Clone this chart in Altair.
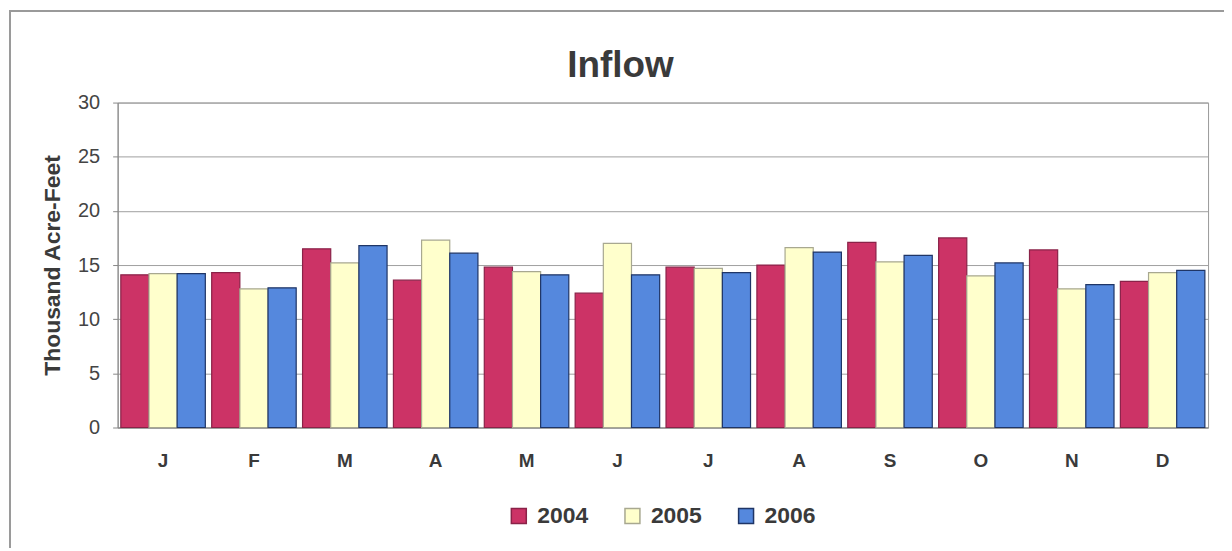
import altair as alt
import pandas as pd

title_text = "Inflow"
months = ["J", "F", "M", "A", "M ", "J ", "J  ", "A ", "S", "O", "N", "D"]
years = ["2004", "2005", "2006"]
v2004 = [14.1, 14.3, 16.5, 13.6, 14.8, 12.4, 14.8, 15.0, 17.1, 17.5, 16.4, 13.5]
v2005 = [14.2, 12.8, 15.2, 17.3, 14.4, 17.0, 14.7, 16.6, 15.3, 14.0, 12.8, 14.3]
v2006 = [14.2, 12.9, 16.8, 16.1, 14.1, 14.1, 14.3, 16.2, 15.9, 15.2, 13.2, 14.5]

rows = []
for i, m in enumerate(months):
    for y, vals in zip(years, [v2004, v2005, v2006]):
        rows.append({"month": m, "year": y, "value": vals[i]})
df = pd.DataFrame(rows)

W, H = 1094, 326
FONT = "Liberation Sans"

frame = alt.Chart(pd.DataFrame({"a": [0]})).mark_rect(
    fill=None, stroke="#9a9a9a", strokeWidth=2
).encode(
    x=alt.value(-108), x2=alt.value(W + 40), y=alt.value(-92), y2=alt.value(H + 200)
)

title = alt.Chart(pd.DataFrame({"t": [title_text]})).mark_text(
    fontSize=37, fontWeight="bold", color="#3a3a3a", font=FONT,
    align="center", baseline="alphabetic"
).encode(x=alt.value(W / 2 - 42.5), y=alt.value(-26), text="t:N")

bars = alt.Chart(df).mark_bar(strokeWidth=1.2).encode(
    x=alt.X("month:N", sort=months,
            scale=alt.Scale(paddingInner=0.07, paddingOuter=0.035),
            axis=alt.Axis(title=None, labelAngle=0, labelFontWeight="bold",
                          labelFontSize=19, labelColor="#3a3a3a", labelPadding=24,
                          ticks=False, domainColor="#888888",
                          labelExpr="trim(datum.label)")),
    xOffset=alt.XOffset("year:N", sort=years, scale=alt.Scale(paddingInner=0, paddingOuter=0)),
    y=alt.Y("value:Q", scale=alt.Scale(domain=[0, 30]),
            axis=alt.Axis(title="Thousand Acre-Feet", values=[0, 5, 10, 15, 20, 25, 30],
                          titleFontSize=23, titleFontWeight="bold", titleColor="#3a3a3a",
                          titlePadding=13, labelFontSize=20, labelColor="#444444",
                          labelPadding=13, tickSize=5, tickColor="#888888",
                          domainColor="#888888", gridColor="#a0a0a0", gridWidth=1)),
    color=alt.Color("year:N", sort=years,
                    scale=alt.Scale(domain=years, range=["#CC3366", "#FFFFCC", "#5588DD"]),
                    legend=alt.Legend(title=None, orient="none", direction="horizontal",
                                      legendX=391, legendY=403, labelFontSize=23,
                                      labelFontWeight="bold", labelColor="#3a3a3a",
                                      symbolType="square", symbolSize=225,
                                      columnPadding=32, labelOffset=7)),
    stroke=alt.Stroke("year:N", sort=years,
                      scale=alt.Scale(domain=years, range=["#8a2248", "#a8a890", "#1f3566"]),
                      legend=None),
)

chart = alt.layer(frame, title, bars).properties(
    width=W, height=H,
    padding={"left": 110, "top": 94, "right": 16, "bottom": 120},
    autosize=alt.AutoSizeParams(type="none"),
).configure(font=FONT).configure_view(stroke="#9a9a9a")

chart.save("out.html", embed_options={"renderer": "svg", "actions": False})
